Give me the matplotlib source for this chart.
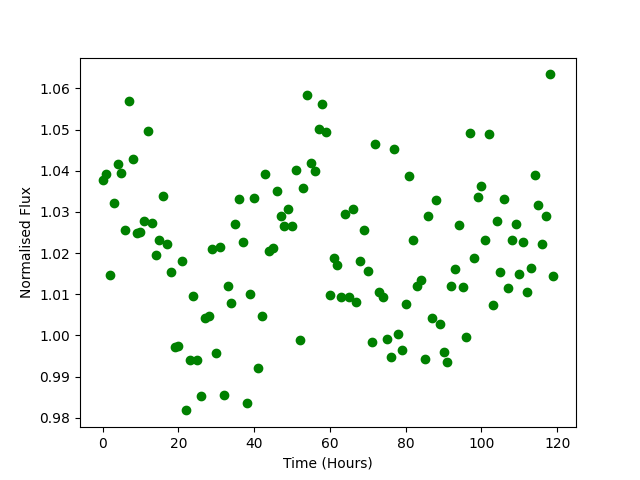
import matplotlib
matplotlib.use("Agg")
import matplotlib.pyplot as plt
import numpy as np

# one reading per hour
time_hours = np.arange(120)

flux = [
    1.0377, 1.0393, 1.0148, 1.0321, 1.0417, 1.0394, 1.0256, 1.0570, 1.0429, 1.0249,
    1.0251, 1.0277, 1.0496, 1.0272, 1.0195, 1.0233, 1.0338, 1.0223, 1.0155, 0.9973,
    0.9975, 1.0182, 0.9818, 0.9940, 1.0097, 0.9941, 0.9854, 1.0043, 1.0048, 1.0209,
    0.9958, 1.0216, 0.9856, 1.0121, 1.0078, 1.0271, 1.0331, 1.0228, 0.9837, 1.0101,
    1.0333, 0.9922, 1.0048, 1.0393, 1.0205, 1.0212, 1.0352, 1.0289, 1.0265, 1.0308,
    1.0267, 1.0403, 0.9990, 1.0359, 1.0583, 1.0418, 1.0399, 1.0501, 1.0562, 1.0495,
    1.0099, 1.0189, 1.0172, 1.0094, 1.0296, 1.0094, 1.0308, 1.0082, 1.0182, 1.0257,
    1.0157, 0.9984, 1.0464, 1.0106, 1.0094, 0.9992, 0.9948, 1.0454, 1.0004, 0.9965,
    1.0077, 1.0388, 1.0233, 1.0121, 1.0135, 0.9943, 1.0289, 1.0043, 1.0328, 1.0028,
    0.9960, 0.9936, 1.0121, 1.0162, 1.0269, 1.0118, 0.9997, 1.0491, 1.0189, 1.0337,
    1.0362, 1.0233, 1.0490, 1.0074, 1.0279, 1.0155, 1.0332, 1.0116, 1.0232, 1.0271,
    1.0150, 1.0228, 1.0106, 1.0165, 1.0390, 1.0316, 1.0222, 1.0289, 1.0634, 1.0145,
]

fig, ax = plt.subplots(figsize=(6.4, 4.8), dpi=100)
ax.scatter(time_hours, flux, color="green")
ax.set_xlabel("Time (Hours)")
ax.set_ylabel("Normalised Flux")

fig.savefig("out.png")
